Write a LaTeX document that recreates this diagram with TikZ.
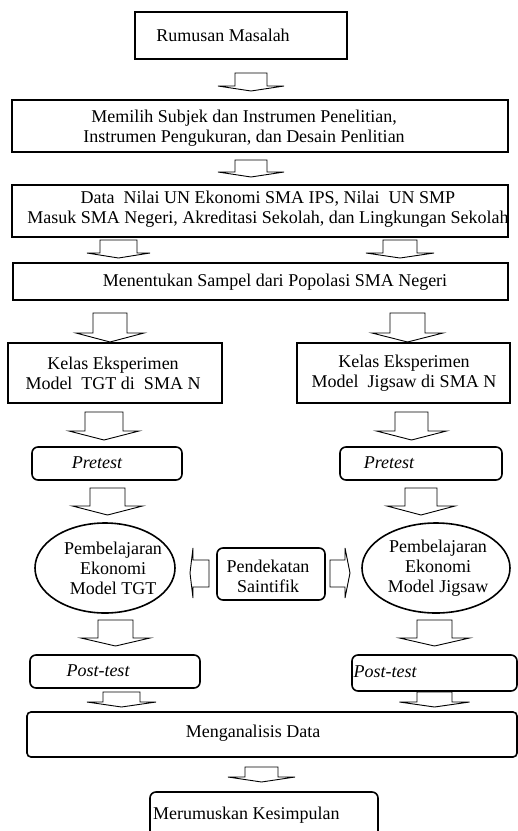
\documentclass[tikz,border=0pt]{standalone}
\usepackage{fontspec}
\setmainfont{Liberation Serif}
\begin{document}
\begin{tikzpicture}[x=1pt,y=-1pt,
  box/.style={draw,line width=1.6pt,inner sep=0pt},
  rbox/.style={draw,line width=1.6pt,rounded corners=6pt},
  ell/.style={draw,line width=1.6pt},
  arr/.style={draw,line width=0.9pt,line join=miter},
  txt/.style={inner sep=0pt,align=center,font=\fontsize{18}{20}\selectfont}]
\useasboundingbox (0,0) rectangle (518,831);
\fill[white] (0,0) rectangle (518,831);
% down block arrows: cx, top, bottom, shaft half, wing half, head height
\newcommand{\dnarrow}[6]{%
  \draw[arr] ({#1-#4},#2) -- ({#1-#4},{#3-#6}) -- ({#1-#5},{#3-#6}) -- (#1,#3)
    -- ({#1+#5},{#3-#6}) -- ({#1+#4},{#3-#6}) -- ({#1+#4},#2) -- cycle;}
% boxes
\draw[box] (135,12) rectangle (347,59);
\node[txt] (t1) at (223,35) {Rumusan Masalah};
\dnarrow{251}{73}{91}{16}{33}{5}
\draw[box] (12,100) rectangle (508,152);
\node[txt] (t2) at (244,128) {Memilih Subjek dan Instrumen Penelitian,\\Instrumen Pengukuran, dan Desain Penlitian};
\dnarrow{251}{160}{177}{16}{33}{5}
\draw[box] (12,185) rectangle (508,237);
\node[txt] (t3) at (268,209) {Data\ \ Nilai UN Ekonomi SMA IPS, Nilai\ \ UN SMP\\Masuk SMA Negeri, Akreditasi Sekolah, dan Lingkungan Sekolah};
\dnarrow{118.5}{240}{258}{18.5}{31.5}{5}
\dnarrow{400}{240}{258}{17}{34}{5}
\draw[box] (13,263) rectangle (508,300);
\node[txt] (t4) at (275,282) {Menentukan Sampel dari Popolasi SMA Negeri};
\dnarrow{110}{313}{342}{17}{34}{9}
\dnarrow{407.5}{313}{342}{17.5}{35.5}{9}
\draw[box] (8,343) rectangle (222,403);
\node[txt] (k1) at (113,373) {Kelas Eksperimen\\Model\ \ TGT di\ \ SMA N};
\draw[box] (297,343) rectangle (510,403);
\node[txt] (k2) at (404,373) {Kelas Eksperimen\\Model\ \ Jigsaw di SMA N};
\dnarrow{104}{412}{440}{19}{35}{9}
\dnarrow{411.5}{412}{440}{16.5}{35}{9}
\draw[rbox] (32,447) rectangle (182,480);
\node[txt,font=\fontsize{18}{20}\selectfont\itshape] (p1) at (97,463) {Pretest};
\draw[rbox] (340,447) rectangle (502,480);
\node[txt,font=\fontsize{18}{20}\selectfont\itshape] (p2) at (389,463) {Pretest};
\dnarrow{107.5}{488}{515}{17.5}{35}{9}
\dnarrow{421}{488}{515}{16}{34}{9}
\draw[ell] (105,568) ellipse [x radius=70,y radius=45];
\node[txt] (e1) at (113,568) {Pembelajaran\\Ekonomi\\Model TGT};
\draw[ell] (436,568) ellipse [x radius=74,y radius=45];
\node[txt] (e2) at (438,568) {Pembelajaran\\Ekonomi\\Model Jigsaw};
\draw[rbox] (217,548) rectangle (325,600);
\node[txt] (pd) at (268,576) {Pendekatan\\Saintifik};
% side arrows
\draw[arr] (209,560) -- (193,560) -- (193,548) -- (190,573) -- (193,598) -- (193,587) -- (209,587) -- cycle;
\draw[arr] (330,560) -- (345,560) -- (345,548) -- (350,573) -- (345,598) -- (345,587) -- (330,587) -- cycle;
\dnarrow{115.5}{620}{646}{17.5}{34.5}{8}
\dnarrow{434.5}{620}{646}{17.5}{35}{8}
\draw[rbox] (30,655) rectangle (200,688);
\node[txt,font=\fontsize{18}{20}\selectfont\itshape] (q1) at (98,671) {Post-test};
\draw[rbox] (352,655) rectangle (517,691);
\node[txt,font=\fontsize{18}{20}\selectfont\itshape] (q2) at (385,672) {Post-test};
\dnarrow{121.5}{692}{707}{18.5}{34.5}{5}
\dnarrow{434.5}{692}{707}{17.5}{35}{5}
\draw[rbox,rounded corners=4pt] (27,712) rectangle (517,757);
\node[txt] (m) at (253,733) {Menganalisis Data};
\dnarrow{261.5}{767}{782}{16.5}{33.5}{5}
\draw[rbox] (150,792) rectangle (378,850);
\node[txt,anchor=west] (r) at (153,815) {Merumuskan Kesimpulan};
\end{tikzpicture}
\end{document}
